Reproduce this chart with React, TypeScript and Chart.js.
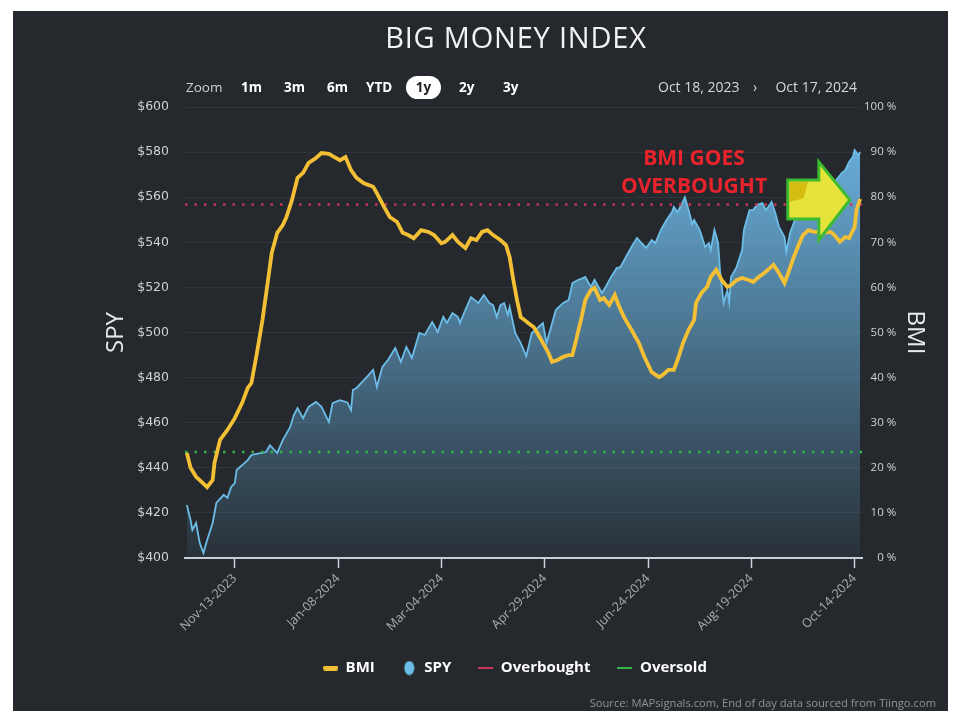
import React, { useEffect, useRef } from 'react';
import { Chart, registerables } from 'chart.js';

Chart.register(...registerables);

// ---------- data ----------
// x values are days counted from Oct 18, 2023
const spyDays = [
  0, 2, 3, 5, 7, 9, 11, 14, 16, 20, 22, 24, 26, 27, 30, 33, 35, 40, 43, 45, 49, 52, 56, 58, 60, 63, 66, 70, 73, 77,
  79, 83, 87, 89, 90, 92, 97, 101, 103, 106, 109, 113, 116, 119, 122, 126, 129, 133, 136, 139, 141, 144, 147, 148,
  151, 154, 158, 161, 164, 166, 168, 170, 172, 174, 175, 178, 181, 184, 187, 189, 193, 195, 197, 200, 204, 207, 209,
  212, 215, 216, 219, 221, 225, 227, 230, 233, 235, 238, 241, 244, 246, 249, 252, 254, 257, 260, 263, 264, 266, 268,
  270, 272, 274, 275, 278, 281, 283, 284, 286, 288, 289, 291, 293, 294, 295, 298, 301, 302, 305, 307, 309, 312, 314,
  317, 319, 321, 324, 325, 327, 329, 332, 335, 339, 343, 346, 350, 352, 355, 357, 359, 361, 362, 364, 365,
];
const spyClose = [
  423.5, 416.8, 412.4, 415.5, 406.6, 402.2, 408.0, 415.5, 424.4, 428.0, 426.6, 431.5, 433.2, 439.0, 441.2, 443.4,
  445.7, 446.5, 447.0, 450.0, 446.5, 452.3, 458.0, 463.4, 466.5, 462.0, 467.0, 469.2, 467.0, 460.3, 468.7, 470.0,
  469.0, 465.6, 474.5, 475.4, 479.8, 483.4, 475.8, 484.7, 487.8, 493.1, 486.9, 493.6, 488.7, 499.8, 498.9, 504.6,
  500.2, 506.9, 504.2, 508.6, 506.9, 504.2, 510.0, 515.7, 513.1, 516.6, 513.1, 512.2, 506.9, 512.2, 513.1, 507.8,
  511.3, 499.8, 495.3, 489.5, 499.8, 501.1, 504.2, 495.3, 501.1, 510.0, 513.1, 514.4, 521.9, 523.3, 524.2, 524.6,
  520.2, 523.3, 517.5, 520.2, 524.6, 528.6, 529.0, 533.5, 537.9, 541.9, 540.1, 537.5, 541.0, 539.7, 545.5, 549.9,
  553.4, 555.7, 553.4, 556.5, 560.0, 554.3, 548.0, 549.9, 545.5, 537.9, 539.7, 536.6, 545.5, 539.7, 527.7, 513.1,
  518.8, 513.5, 524.6, 529.0, 536.6, 545.5, 554.3, 554.3, 556.5, 557.4, 554.3, 557.9, 553.0, 546.8, 542.3, 535.7,
  544.1, 548.6, 554.3, 557.4, 560.0, 561.9, 564.5, 565.4, 567.6, 570.7, 572.1, 575.6, 577.8, 580.9, 578.7, 580.0,
];
const bmiDays = [
  0, 2, 5, 8, 11, 14, 15, 18, 22, 26, 30, 33, 35, 38, 41, 44, 46, 49, 52, 54, 57, 60, 63, 66, 70, 73, 77, 80, 83, 86,
  89, 92, 96, 101, 103, 107, 110, 114, 117, 120, 123, 127, 131, 134, 138, 140, 144, 147, 151, 154, 157, 160, 163, 166,
  170, 173, 175, 177, 179, 181, 183, 185, 188, 190, 193, 196, 198, 201, 204, 207, 209, 211, 214, 216, 219, 221, 224,
  226, 229, 232, 234, 237, 241, 245, 248, 252, 256, 258, 261, 264, 266, 269, 272, 275, 276, 279, 282, 284, 287, 290,
  293, 295, 298, 301, 305, 307, 310, 313, 315, 318, 321, 324, 326, 329, 332, 334, 337, 340, 343, 345, 349, 351, 354,
  357, 359, 362, 363, 365,
];
const bmiValue = [
  23.3, 20.0, 18.0, 16.9, 15.7, 17.3, 21.1, 26.2, 28.4, 31.0, 34.4, 37.7, 38.8, 45.5, 52.8, 61.6, 67.6, 72.1, 73.8,
  75.6, 79.4, 84.3, 85.4, 87.6, 88.7, 89.8, 89.6, 88.9, 88.2, 88.9, 86.0, 84.3, 83.1, 82.3, 80.9, 77.8, 75.6, 74.5,
  72.1, 71.6, 70.9, 72.7, 72.3, 71.6, 69.8, 70.1, 71.6, 70.1, 68.7, 70.9, 70.5, 72.3, 72.7, 71.6, 70.5, 69.4, 66.7,
  61.6, 57.2, 53.4, 52.8, 52.1, 51.2, 49.9, 47.7, 45.5, 43.5, 43.9, 44.6, 45.0, 45.0, 48.3, 53.4, 57.2, 59.4, 59.9,
  57.2, 57.6, 56.1, 58.3, 56.1, 53.4, 50.6, 47.7, 44.6, 41.2, 40.1, 40.6, 41.7, 41.7, 43.9, 47.7, 50.6, 52.8, 56.5,
  58.8, 60.1, 62.3, 63.9, 61.6, 60.1, 60.5, 61.6, 62.1, 61.6, 61.2, 62.3, 63.2, 63.9, 65.0, 63.2, 61.0, 63.2, 66.7,
  69.8, 71.6, 72.7, 72.3, 72.3, 72.1, 72.3, 71.6, 70.1, 71.2, 70.9, 73.4, 77.2, 79.6,
];
const overboughtLevel = 78.4;
const oversoldLevel = 23.5;
const xTickDays = [26, 82, 138, 194, 250, 306, 362];
const seriesNames = ['BMI', 'SPY', 'Overbought', 'Oversold'];
const zoomButtons = ['1m', '3m', '6m', 'YTD', '1y', '2y', '3y'];
const rangeStart = 'Oct 18, 2023';
const rangeEnd = 'Oct 17, 2024';
const arrowTipDay = 359.4;
const arrowTipBmi = 79.4;

// ---------- styles ----------
const PANEL = '#25292e';
const BMI_COLOR = '#f3bf35';
const SPY_COLOR = '#6dbde9';
const OB_COLOR = '#c8355a';
const OS_COLOR = '#33b548';
const FONT = '"Open Sans", "Noto Sans", sans-serif';
const MONTHS = ['Jan', 'Feb', 'Mar', 'Apr', 'May', 'Jun', 'Jul', 'Aug', 'Sep', 'Oct', 'Nov', 'Dec'];
const START_MS = Date.UTC(2023, 9, 18);
const FIG_SPACE = '\u2007';

function dayLabel(d: number): string {
  const dt = new Date(START_MS + d * 86400000);
  const dd = String(dt.getUTCDate()).padStart(2, '0');
  return `${MONTHS[dt.getUTCMonth()]}-${dd}-${dt.getUTCFullYear()}`;
}

function pctLabel(v: number): string {
  const s = String(v);
  return FIG_SPACE.repeat(Math.max(0, 3 - s.length)) + s + ' %';
}

function makeSymbol(w: number, h: number, draw: (g: CanvasRenderingContext2D) => void) {
  const c = document.createElement('canvas');
  c.width = w;
  c.height = h;
  const g = c.getContext('2d')!;
  draw(g);
  return c;
}

function arrowPath(ctx: CanvasRenderingContext2D, tx: number, ty: number) {
  ctx.beginPath();
  ctx.moveTo(tx - 62, ty - 20);
  ctx.lineTo(tx - 31, ty - 20);
  ctx.lineTo(tx - 31, ty - 38);
  ctx.lineTo(tx, ty);
  ctx.lineTo(tx - 31, ty + 40);
  ctx.lineTo(tx - 31, ty + 19);
  ctx.lineTo(tx - 62, ty + 19);
  ctx.closePath();
}

const arrowPlugin = {
  id: 'arrowNote',
  afterDatasetsDraw(chart: any) {
    const { ctx, scales } = chart;
    const tx = scales.x.getPixelForValue(arrowTipDay);
    const ty = scales.yBMI.getPixelForValue(arrowTipBmi);
    ctx.save();
    arrowPath(ctx, tx, ty);
    ctx.fillStyle = '#e6e33a';
    ctx.fill();
    ctx.beginPath();
    ctx.moveTo(tx - 60, ty - 18);
    ctx.lineTo(tx - 42, ty - 18);
    ctx.lineTo(tx - 46, ty - 2);
    ctx.lineTo(tx - 60, ty + 2);
    ctx.closePath();
    ctx.fillStyle = '#d6bd12';
    ctx.fill();
    arrowPath(ctx, tx, ty);
    ctx.lineWidth = 3;
    ctx.lineJoin = 'miter';
    ctx.strokeStyle = '#3dba2f';
    ctx.stroke();
    ctx.restore();
  },
};

export default function App() {
  const canvasRef = useRef<HTMLCanvasElement>(null);

  useEffect(() => {
    const canvas = canvasRef.current;
    if (!canvas) return;

    const symbols = [
      makeSymbol(15, 5, (g) => {
        g.fillStyle = BMI_COLOR;
        g.beginPath();
        (g as any).roundRect ? (g as any).roundRect(0, 0, 15, 5, 2) : g.rect(0, 0, 15, 5);
        g.fill();
      }),
      makeSymbol(11, 15, (g) => {
        g.fillStyle = SPY_COLOR;
        g.beginPath();
        g.ellipse(5.5, 7.5, 5, 7, 0, 0, Math.PI * 2);
        g.fill();
      }),
      makeSymbol(15, 2, (g) => {
        g.fillStyle = OB_COLOR;
        g.fillRect(0, 0, 15, 2);
      }),
      makeSymbol(15, 2, (g) => {
        g.fillStyle = OS_COLOR;
        g.fillRect(0, 0, 15, 2);
      }),
    ];

    const spyPoints = spyDays.map((d, i) => ({ x: d, y: spyClose[i] }));
    const bmiPoints = bmiDays.map((d, i) => ({ x: d, y: bmiValue[i] }));
    const xMin = -1;
    const xMax = 366;

    const chart = new Chart(canvas, {
      type: 'line',
      data: {
        datasets: [
          {
            label: seriesNames[0],
            data: bmiPoints,
            yAxisID: 'yBMI',
            borderColor: BMI_COLOR,
            backgroundColor: BMI_COLOR,
            borderWidth: 3.8,
            pointRadius: 0,
            tension: 0,
            order: 0,
          },
          {
            label: seriesNames[1],
            data: spyPoints,
            yAxisID: 'ySPY',
            borderColor: SPY_COLOR,
            borderWidth: 1.8,
            pointRadius: 0,
            tension: 0,
            fill: 'start',
            order: 3,
            backgroundColor: (c: any) => {
              const area = c.chart.chartArea;
              if (!area) return 'rgba(110,185,232,0.5)';
              const g = c.chart.ctx.createLinearGradient(0, area.top, 0, area.bottom);
              g.addColorStop(0, 'rgba(110,185,232,1)');
              g.addColorStop(1, 'rgba(110,185,232,0.06)');
              return g;
            },
          },
          {
            label: seriesNames[2],
            data: [
              { x: xMin, y: overboughtLevel },
              { x: xMax, y: overboughtLevel },
            ],
            yAxisID: 'yBMI',
            borderColor: OB_COLOR,
            backgroundColor: OB_COLOR,
            borderWidth: 2.5,
            borderDash: [2.5, 7],
            pointRadius: 0,
            order: 1,
          },
          {
            label: seriesNames[3],
            data: [
              { x: xMin, y: oversoldLevel },
              { x: xMax, y: oversoldLevel },
            ],
            yAxisID: 'yBMI',
            borderColor: OS_COLOR,
            backgroundColor: OS_COLOR,
            borderWidth: 2.5,
            borderDash: [2.5, 7],
            pointRadius: 0,
            order: 1,
          },
        ],
      },
      options: {
        responsive: false,
        animation: false,
        events: [],
        layout: { padding: { top: 107, left: 71, right: 0, bottom: 33.5 } },
        scales: {
          x: {
            type: 'linear',
            min: xMin,
            max: xMax,
            afterBuildTicks: (s: any) => {
              s.ticks = xTickDays.map((v) => ({ value: v }));
            },
            afterFit: (s: any) => {
              s.height = 75.5;
            },
            ticks: {
              autoSkip: false,
              maxRotation: 45,
              minRotation: 45,
              padding: 3,
              color: '#a9adb2',
              font: { family: FONT, size: 12.5 },
              callback: (v: any) => dayLabel(Number(v)),
            },
            grid: {
              display: true,
              drawOnChartArea: false,
              drawTicks: true,
              tickLength: 10,
              tickColor: '#c9d0d8',
              tickWidth: 1.5,
              color: '#c9d0d8',
            },
            border: { display: true, color: '#c9d0d8', width: 2 },
          },
          ySPY: {
            type: 'linear',
            position: 'left',
            min: 400,
            max: 600,
            afterFit: (s: any) => {
              s.width = 114;
            },
            ticks: {
              stepSize: 20,
              padding: 16,
              color: '#cfd1d4',
              font: { family: '"DejaVu Sans", sans-serif', size: 12.5 },
              callback: (v: any) => '$' + v,
            },
            grid: { color: '#30353b', lineWidth: 1, drawTicks: false, tickLength: 0 },
            border: { display: false },
            title: {
              display: true,
              text: 'SPY',
              color: '#e8e8e8',
              font: { family: FONT, size: 24, weight: '400' as any },
              padding: { top: 31, bottom: 0 },
            },
          },
          yBMI: {
            type: 'linear',
            position: 'right',
            min: 0,
            max: 100,
            afterFit: (s: any) => {
              s.width = 97;
            },
            ticks: {
              stepSize: 10,
              padding: 2,
              crossAlign: 'near',
              color: '#cfd1d4',
              font: { family: FONT, size: 11.5 },
              callback: (v: any) => pctLabel(Number(v)),
            },
            grid: { display: false, drawTicks: false, tickLength: 0 },
            border: { display: false },
            title: {
              display: true,
              text: 'BMI',
              color: '#e8e8e8',
              font: { family: FONT, size: 24, weight: '400' as any },
              padding: { top: 30, bottom: 0 },
            },
          },
        },
        plugins: {
          tooltip: { enabled: false },
          title: { display: false },
          legend: {
            display: true,
            position: 'bottom',
            labels: {
              usePointStyle: true,
              pointStyleWidth: 15,
              padding: 27,
              color: '#ffffff',
              font: { family: FONT, size: 15, weight: 'bold' as any },
              sort: (a: any, b: any) => a.datasetIndex - b.datasetIndex,
              generateLabels: (ch: any) =>
                (Chart.defaults.plugins.legend.labels as any)
                  .generateLabels(ch)
                  .map((item: any) => ({
                    ...item,
                    pointStyle: symbols[item.datasetIndex],
                    fontColor: '#ffffff',
                  })),
            },
          },
        },
      } as any,
      plugins: [arrowPlugin],
    });

    return () => chart.destroy();
  }, []);

  const zoomLefts = [241, 284, 327, 366, 406, 459, 503];

  return (
    <div
      style={{
        position: 'absolute',
        left: 0,
        top: 0,
        width: 959,
        height: 719,
        background: '#ffffff',
        overflow: 'hidden',
        fontFamily: FONT,
      }}
    >
      <div style={{ position: 'absolute', left: 13, top: 11, width: 935, height: 700, background: PANEL }} />
      <canvas
        ref={canvasRef}
        width={959}
        height={719}
        style={{ position: 'absolute', left: 0, top: 0, width: 959, height: 719 }}
      />
      <div
        style={{
          position: 'absolute',
          left: 216,
          width: 600,
          top: 18,
          lineHeight: '38px',
          textAlign: 'center',
          fontSize: 29,
          fontWeight: 400,
          letterSpacing: '0.8px',
          color: '#f2f2f2',
          whiteSpace: 'nowrap',
        }}
      >
        BIG MONEY INDEX
      </div>
      <div
        style={{
          position: 'absolute',
          left: 186,
          top: 78,
          lineHeight: '18px',
          fontSize: 13.5,
          color: '#cfcfcf',
        }}
      >
        Zoom
      </div>
      {zoomButtons.map((b, i) =>
        b === '1y' ? (
          <div
            key={b}
            style={{
              position: 'absolute',
              left: zoomLefts[i],
              top: 76,
              width: 35,
              height: 23,
              borderRadius: 12,
              background: '#ffffff',
              color: '#222',
              fontSize: 13.5,
              fontWeight: 700,
              lineHeight: '23px',
              textAlign: 'center',
            }}
          >
            {b}
          </div>
        ) : (
          <div
            key={b}
            style={{
              position: 'absolute',
              left: zoomLefts[i],
              top: 78,
              lineHeight: '18px',
              fontSize: 13.5,
              fontWeight: 700,
              color: '#ffffff',
            }}
          >
            {b}
          </div>
        )
      )}
      <div
        style={{
          position: 'absolute',
          left: 658,
          top: 78,
          lineHeight: '18px',
          fontSize: 14,
          color: '#d6d6d6',
          whiteSpace: 'nowrap',
        }}
      >
        {rangeStart}
      </div>
      <div
        style={{
          position: 'absolute',
          left: 753,
          top: 78,
          lineHeight: '18px',
          fontSize: 14,
          color: '#d6d6d6',
        }}
      >
        {'\u203A'}
      </div>
      <div
        style={{
          position: 'absolute',
          right: 102,
          top: 78,
          lineHeight: '18px',
          fontSize: 14,
          color: '#d6d6d6',
          whiteSpace: 'nowrap',
        }}
      >
        {rangeEnd}
      </div>
      <div
        style={{
          position: 'absolute',
          left: 594,
          width: 200,
          top: 143,
          lineHeight: '28px',
          textAlign: 'center',
          fontSize: 21,
          fontWeight: 700,
          color: '#e8232b',
          whiteSpace: 'nowrap',
        }}
      >
        BMI GOES
        <br />
        OVERBOUGHT
      </div>
      <div
        style={{
          position: 'absolute',
          right: 23,
          top: 696,
          lineHeight: '14px',
          fontSize: 11.2,
          color: '#8f9296',
          whiteSpace: 'nowrap',
        }}
      >
        Source: MAPsignals.com, End of day data sourced from Tiingo.com
      </div>
    </div>
  );
}
